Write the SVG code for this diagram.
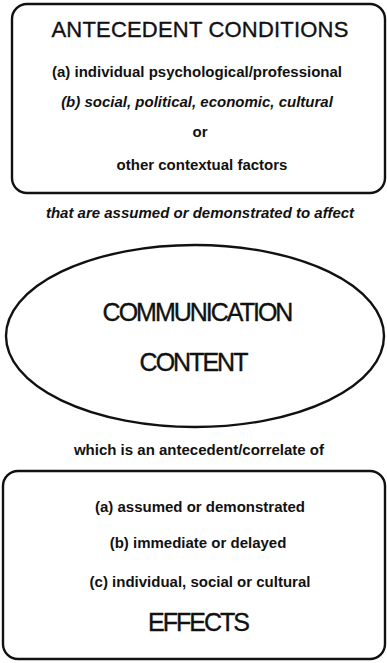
<svg xmlns="http://www.w3.org/2000/svg" width="387" height="663" viewBox="0 0 387 663">
<style>
.shape{fill:none;stroke:#111;stroke-width:2.4}
text{font-family:"Liberation Sans",Arial,Helvetica,sans-serif;fill:#111;text-anchor:middle}
.body{font-size:15px;font-weight:bold}
.it{font-style:italic}
.head{font-size:22px;letter-spacing:0.2px;stroke:#111;stroke-width:0.35}
.big{font-size:25px;letter-spacing:-2px;stroke:#111;stroke-width:0.35}
</style>
<rect width="387" height="663" fill="#fff"/>
<g id="antecedent-conditions">
<rect class="shape" x="12" y="4" width="373" height="189" rx="15" ry="15"/>
<text class="head" x="200" y="37">ANTECEDENT CONDITIONS</text>
<text class="body" x="197" y="77">(a) individual psychological/professional</text>
<text class="body it" x="197" y="107">(b) social, political, economic, cultural</text>
<text class="body" x="200" y="137">or</text>
<text class="body" x="202" y="170">other contextual factors</text>
</g>
<g id="connectors">
<text class="body it" x="200" y="218">that are assumed or demonstrated to affect</text>
<text class="body" x="199" y="455">which is an antecedent/correlate of</text>
</g>
<g id="communication-content">
<ellipse class="shape" cx="195" cy="336" rx="189" ry="91"/>
<text class="big" x="197" y="321">COMMUNICATION</text>
<text class="big" x="193" y="371">CONTENT</text>
</g>
<g id="effects">
<rect class="shape" x="3" y="471" width="382" height="188" rx="15" ry="15"/>
<text class="body" x="200" y="512">(a) assumed or demonstrated</text>
<text class="body" x="198" y="548">(b) immediate or delayed</text>
<text class="body" x="200" y="587">(c) individual, social or cultural</text>
<text class="big" x="198" y="631">EFFECTS</text>
</g>
</svg>
